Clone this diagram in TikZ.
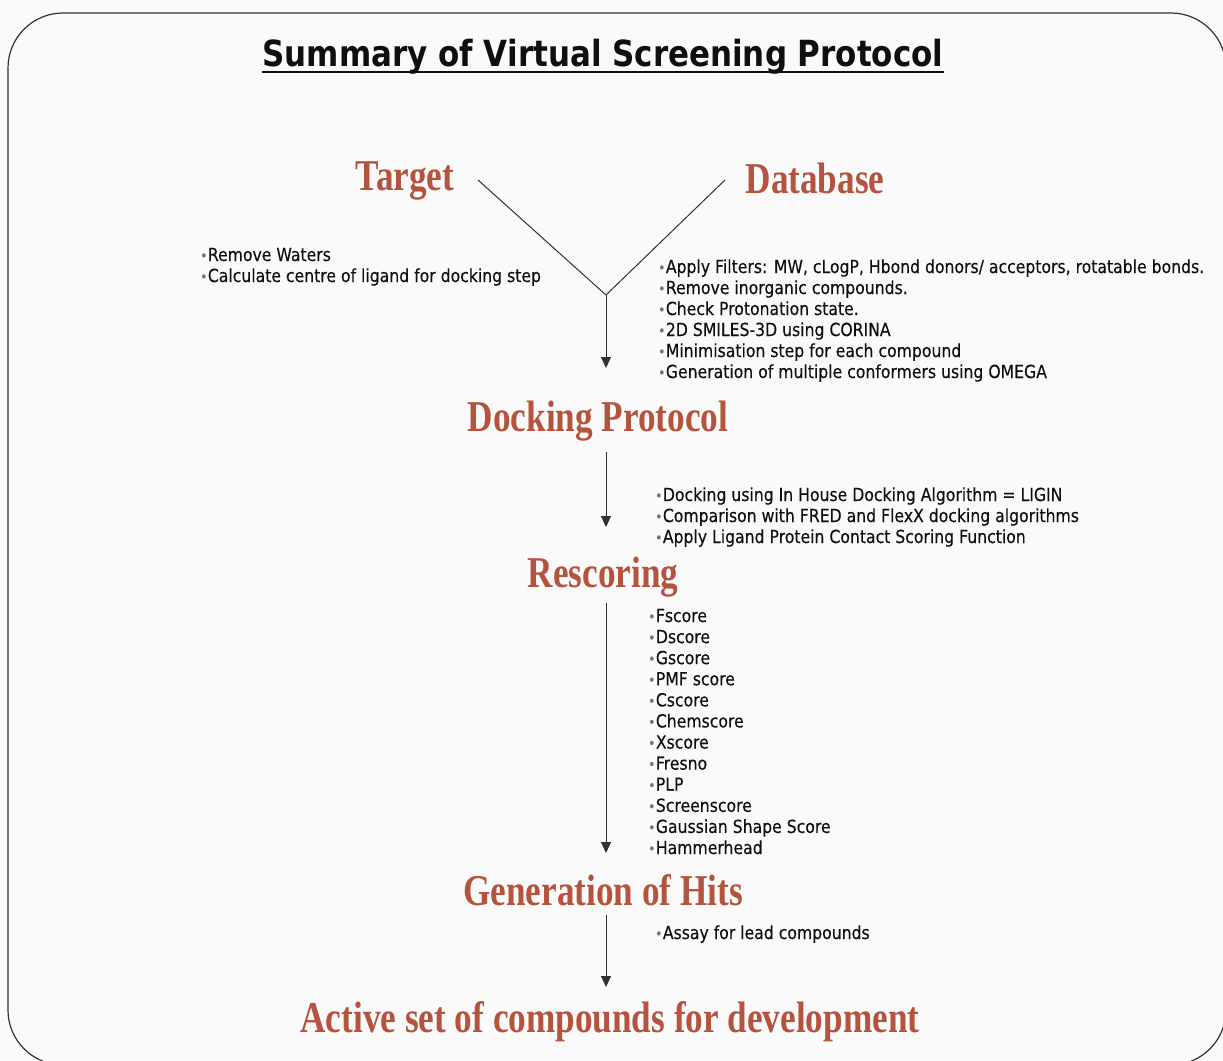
\documentclass[tikz,border=0pt]{standalone}
\usepackage{fontspec}
\usetikzlibrary{arrows.meta}
\newfontfamily\headfont[FakeStretch=0.8]{Liberation Serif}
\newfontfamily\bodyfont[FakeStretch=0.87,FakeBold=0.25]{DejaVu Sans}
\newfontfamily\titlefont[FakeStretch=0.86]{DejaVu Sans}
\definecolor{headred}{RGB}{180,84,62}
\definecolor{inkc}{RGB}{15,15,15}
\definecolor{bulgray}{RGB}{115,115,115}
\definecolor{linec}{RGB}{50,50,50}
\definecolor{bgc}{RGB}{250,250,250}
\newcommand{\bl}{{\color{bulgray}\fontsize{14}{14}\selectfont\raisebox{0.05ex}{•}}\hspace{0.5pt}}
\tikzset{
  head/.style={font=\headfont\bfseries\fontsize{44}{44}\selectfont, text=headred, inner sep=0pt, anchor=base},
  blt/.style={font=\bodyfont\fontsize{18}{21}\selectfont, text=inkc, inner sep=0pt, anchor=base west},
  ln/.style={draw=linec, line width=1pt},
  arr/.style={ln, -{Triangle[length=11pt,width=10pt]}}
}
\begin{document}
\begin{tikzpicture}[x=1pt,y=-1pt]
\useasboundingbox (0,0) rectangle (1223,1060);
\fill[bgc] (0,0) rectangle (1223,1060);
\begin{scope}
\clip (0,0) rectangle (1223,1060);
\draw[draw=linec, line width=1.2pt, rounded corners=55pt] (8,13) rectangle (1226,1065);
\end{scope}
% title
\node[font=\titlefont\bfseries\fontsize{36}{36}\selectfont, text=inkc, inner sep=0pt, anchor=base] (title) at (603,66) {Summary of Virtual Screening Protocol};
\draw[draw=inkc, line width=2pt] ([yshift=-6pt]title.base west) -- ([yshift=-6pt]title.base east);
% headings
\node[head] (tgt) at (405,190) {Target};
\node[head] (db) at (815,193) {Database};
\node[head] (dock) at (598,431) {Docking Protocol};
\node[head] (resc) at (603,587) {Rescoring};
\node[head] (hits) at (603,905) {Generation of Hits};
\node[head] (act) at (610,1032) {Active set of compounds for development};
% connectors
\coordinate (tl) at (478,180);
\coordinate (dl) at (725,180);
\coordinate (jn) at (606,295);
\draw[ln] (tl) -- (jn);
\draw[ln] (dl) -- (jn);
\draw[arr] (jn) -- ([yshift=63pt]dock.base -| jn);
\draw[arr] ([yshift=-21pt]dock.base -| jn) -- ([yshift=60pt]resc.base -| jn);
\draw[arr] ([yshift=-16pt]resc.base -| jn) -- ([yshift=52pt]hits.base -| jn);
\draw[arr] ([yshift=-10pt]hits.base -| jn) -- ([yshift=45pt]act.base -| jn);
% bullet lists
\foreach \t [count=\i] in {{Remove Waters},{Calculate centre of ligand for docking step}}
  \node[blt] (tg\i) at (200,{261+21*(\i-1)}) {\bl\t};
\foreach \t [count=\i] in {{Apply Filters: MW, cLogP, Hbond donors/ acceptors, rotatable bonds.},{Remove inorganic compounds.},{Check Protonation state.},{2D SMILES-3D using CORINA},{Minimisation step for each compound},{Generation of multiple conformers using OMEGA}}
  \node[blt] (db\i) at (658,{273+21*(\i-1)}) {\bl\t};
\foreach \t [count=\i] in {{Docking using In House Docking Algorithm = LIGIN},{Comparison with FRED and FlexX docking algorithms},{Apply Ligand Protein Contact Scoring Function}}
  \node[blt] (dk\i) at (655,{501+21*(\i-1)}) {\bl\t};
\foreach \t [count=\i] in {Fscore,Dscore,Gscore,PMF score,Cscore,Chemscore,Xscore,Fresno,PLP,Screenscore,Gaussian Shape Score,Hammerhead}
  \node[blt] (rs\i) at (648,{622+21.09*(\i-1)}) {\bl\t};
\node[blt] (as1) at (655,939) {\bl Assay for lead compounds};
\end{tikzpicture}
\end{document}
